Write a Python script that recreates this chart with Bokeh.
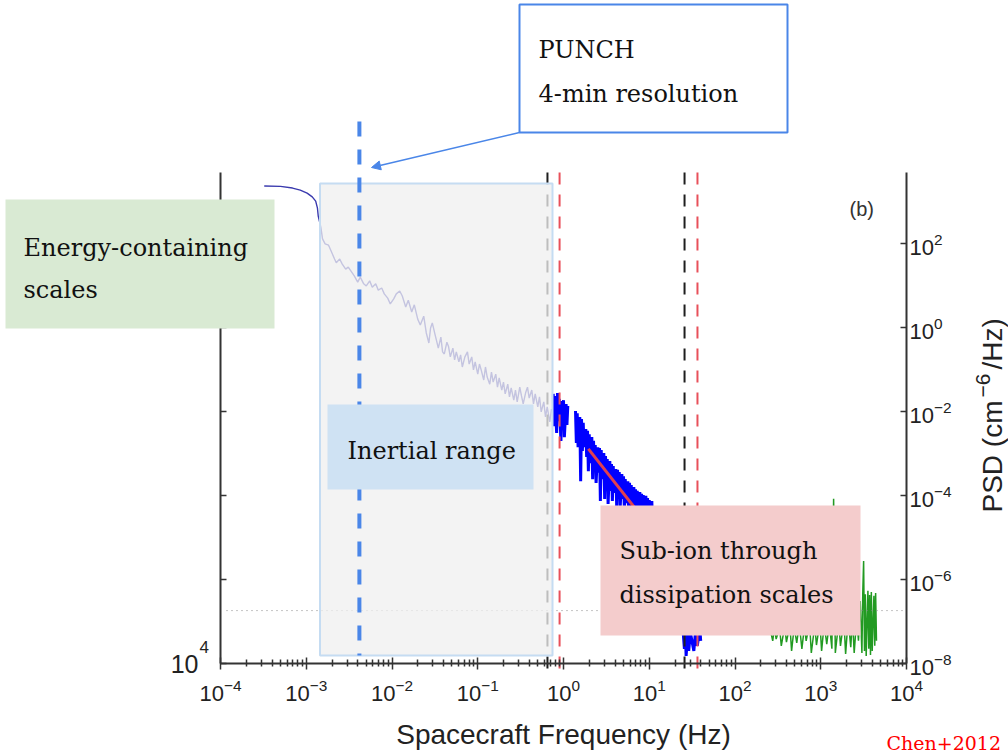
import math
from bokeh.plotting import figure
from bokeh.models import (FixedTicker, LogAxis, BoxAnnotation, Label, Arrow,
                          NormalHead, ColumnDataSource)
from bokeh.embed import file_html
from bokeh.resources import INLINE

# ---------------- data (log10 values) ----------------
# low-frequency density spectrum: (log10 f [Hz], log10 PSD [cm^-6/Hz])
low_spectrum = [
    (-3.49, 3.37), (-3.30, 3.36), (-3.16, 3.32), (-3.07, 3.27), (-2.99, 3.20),
    (-2.93, 3.11), (-2.89, 3.01), (-2.87, 2.85), (-2.86, 2.65), (-2.83, 2.39),
    (-2.81, 2.11), (-2.78, 1.99), (-2.74, 1.96), (-2.71, 1.82), (-2.67, 1.63),
    (-2.65, 1.54), (-2.61, 1.63), (-2.58, 1.51), (-2.54, 1.39), (-2.51, 1.44),
    (-2.47, 1.32), (-2.44, 1.23), (-2.40, 1.08), (-2.37, 1.20), (-2.33, 1.04),
    (-2.30, 0.99), (-2.26, 1.11), (-2.23, 0.96), (-2.19, 1.04), (-2.16, 0.89),
    (-2.12, 0.94), (-2.09, 0.80), (-2.05, 0.70), (-2.02, 0.56), (-1.98, 0.68),
    (-1.95, 0.80), (-1.91, 0.87), (-1.88, 0.75), (-1.84, 0.49), (-1.81, 0.65),
    (-1.77, 0.37), (-1.74, 0.54), (-1.70, 0.20), (-1.67, 0.06), (-1.63, 0.27),
    (-1.60, -0.13), (-1.57, -0.37), (-1.55, -0.01), (-1.53, 0.11), (-1.50, -0.15),
    (-1.48, -0.32), (-1.46, -0.49), (-1.43, -0.23), (-1.41, -0.58), (-1.39, -0.63),
    (-1.36, -0.35), (-1.34, -0.46), (-1.32, -0.70), (-1.29, -0.49), (-1.27, -0.77),
    (-1.25, -0.58), (-1.22, -0.82), (-1.20, -0.65), (-1.18, -0.94), (-1.15, -0.70),
    (-1.12, -0.58), (-1.10, -0.87), (-1.07, -0.70), (-1.05, -1.01), (-1.03, -0.82),
    (-1.00, -1.11), (-0.98, -0.87), (-0.96, -1.01), (-0.93, -1.25), (-0.91, -0.94),
    (-0.89, -1.18), (-0.86, -1.35), (-0.84, -1.06), (-0.82, -1.30), (-0.79, -1.11),
    (-0.77, -1.42), (-0.75, -1.20), (-0.72, -1.49), (-0.70, -1.30), (-0.68, -1.58),
    (-0.65, -1.35), (-0.63, -1.65), (-0.61, -1.44), (-0.58, -1.73), (-0.56, -1.49),
    (-0.54, -1.77), (-0.51, -1.42), (-0.49, -1.63), (-0.47, -1.82), (-0.44, -1.54),
    (-0.42, -1.42), (-0.40, -1.68), (-0.37, -1.49), (-0.35, -1.82), (-0.33, -1.58),
    (-0.30, -1.89), (-0.28, -1.65), (-0.26, -2.01), (-0.23, -1.77), (-0.21, -2.13),
    (-0.19, -1.89), (-0.16, -2.25), (-0.14, -1.94),
]
# high-resolution density spectrum, first burst
blue_a = [
    (-0.12, -1.58), (-0.11, -2.35), (-0.10, -1.63), (-0.08, -2.51), (-0.07, -1.56),
    (-0.06, -2.23), (-0.05, -1.70), (-0.03, -2.70), (-0.02, -1.75), (-0.01, -2.42),
    (0.00, -1.73), (0.01, -2.61), (0.03, -1.82), (0.04, -2.32), (0.05, -1.87),
]
# high-resolution density spectrum, main part
blue_b = [
    (0.14, -1.99), (0.15, -2.75), (0.16, -2.04), (0.17, -2.85), (0.19, -2.13),
    (0.20, -3.66), (0.21, -2.18), (0.22, -2.94), (0.23, -2.27), (0.24, -2.85),
    (0.26, -2.42), (0.27, -3.08), (0.28, -2.46), (0.29, -3.42), (0.30, -2.54),
    (0.31, -3.23), (0.33, -2.61), (0.34, -3.61), (0.35, -2.70), (0.36, -3.32),
    (0.37, -2.80), (0.38, -3.70), (0.40, -2.85), (0.41, -3.46), (0.42, -2.87),
    (0.43, -4.13), (0.44, -2.92), (0.45, -3.61), (0.47, -2.99), (0.48, -4.08),
    (0.49, -3.06), (0.50, -3.75), (0.51, -3.13), (0.52, -4.20), (0.54, -3.18),
    (0.55, -3.89), (0.56, -3.25), (0.57, -4.13), (0.58, -3.30), (0.59, -3.94),
    (0.61, -3.37), (0.62, -4.25), (0.63, -3.39), (0.64, -4.01), (0.65, -3.44),
    (0.66, -4.32), (0.68, -3.49), (0.69, -4.08), (0.70, -3.54), (0.71, -4.37),
    (0.72, -3.61), (0.73, -4.18), (0.75, -3.66), (0.76, -4.42), (0.77, -3.70),
    (0.78, -4.25), (0.79, -3.75), (0.80, -4.49), (0.82, -3.80), (0.83, -4.32),
    (0.84, -3.85), (0.85, -4.56), (0.86, -3.89), (0.87, -4.37), (0.89, -3.92),
    (0.90, -4.61), (0.91, -3.96), (0.92, -4.42), (0.93, -3.99), (0.94, -4.65),
    (0.96, -4.01), (0.97, -4.49), (0.98, -4.06), (0.99, -4.73), (1.00, -4.11),
    (1.01, -4.56), (1.03, -4.13), (1.04, -4.80), (1.13, -4.85), (1.25, -5.44),
    (1.36, -6.27), (1.41, -7.65), (1.42, -7.18), (1.43, -7.82), (1.45, -7.23),
    (1.46, -7.70), (1.48, -7.27), (1.52, -7.70), (1.54, -7.23), (1.56, -7.58),
    (1.59, -7.18), (1.60, -7.46),
]
# high-frequency density spectrum (green)
green_spectrum = [
    (2.41, -7.18), (2.44, -7.46), (2.46, -7.13), (2.48, -7.42), (2.52, -7.15),
    (2.54, -7.58), (2.58, -7.11), (2.60, -7.49), (2.64, -7.08), (2.66, -7.70),
    (2.69, -7.13), (2.72, -7.51), (2.75, -7.06), (2.78, -7.65), (2.81, -7.11),
    (2.83, -7.46), (2.87, -7.04), (2.89, -7.75), (2.93, -7.08), (2.95, -7.56),
    (2.99, -7.01), (3.01, -7.70), (3.04, -7.06), (3.07, -7.54), (3.10, -7.04),
    (3.13, -7.65), (3.15, -4.08), (3.17, -7.75), (3.21, -6.99), (3.23, -7.58),
    (3.27, -6.96), (3.29, -7.77), (3.32, -6.94), (3.35, -7.61), (3.37, -6.92),
    (3.39, -7.75), (3.42, -6.89), (3.44, -7.46), (3.46, -6.51), (3.48, -7.75),
    (3.49, -6.32), (3.50, -5.56), (3.51, -7.70), (3.52, -6.35), (3.53, -7.82),
    (3.55, -6.27), (3.56, -7.65), (3.57, -6.37), (3.58, -7.80), (3.59, -6.30),
    (3.60, -7.70), (3.62, -6.39), (3.63, -7.58), (3.64, -6.32), (3.65, -7.46),
]
fit_line = [(0.29, -2.89), (1.20, -5.25)]     # power-law fit (red)
black_marker_f = [0.65, 25.8]                  # black dashed markers (Hz)
red_marker_f = [0.90, 36.5]                    # red dashed markers (Hz)
punch_f = 1.0 / 240.0                          # PUNCH 4-min cadence (Hz)
noise_level = 10 ** -6.74                      # dotted noise level
x_ticks = [10.0 ** k for k in range(-4, 5)]
y_ticks = [10.0 ** k for k in range(-8, 3, 2)]


def unzip(pairs):
    return [10 ** a for a, _ in pairs], [10 ** b for _, b in pairs]


# ---------------- layout: the data frame covers the whole canvas ----------------
W, H = 1008, 756
AXL, AXR, AXT, AXB = 220, 906, 172, 663     # where the axes sit (pixels)
PX_DEC_X = (AXR - AXL) / 8.0                # pixels per decade along x
PX_DEC_Y = 42.0                             # pixels per decade along y


def dx(px):
    return 10 ** (-4 + (px - AXL) / PX_DEC_X)


def dy(py):
    return 10 ** (-8 + (AXB - py) / PX_DEC_Y)


p = figure(width=W, height=H, x_axis_type="log", y_axis_type="log",
           x_range=(dx(0), dx(W)), y_range=(dy(H), dy(0)),
           x_axis_location=None, y_axis_location=None,
           output_backend="svg", toolbar_location=None,
           min_border=0, min_border_left=0, min_border_right=0,
           min_border_top=0, min_border_bottom=0)
p.outline_line_color = None
p.background_fill_color = "white"
p.border_fill_color = "white"
p.xgrid.visible = False
p.ygrid.visible = False

AX = "#333333"
TXT = "#222222"
y_top = dy(AXT)

xa = LogAxis(fixed_location=1e-8, bounds=(1e-4, 1e4),
             ticker=FixedTicker(ticks=x_ticks,
                                minor_ticks=[m * 10.0 ** k for k in range(-4, 4) for m in range(2, 10)]),
             axis_line_width=2, axis_line_color=AX,
             major_tick_in=6, major_tick_out=6, minor_tick_in=4, minor_tick_out=3,
             major_tick_line_width=1.5, minor_tick_line_width=1.5,
             major_tick_line_color=AX, minor_tick_line_color=AX,
             major_label_text_font="Liberation Sans", major_label_text_font_size="22px",
             major_label_text_color=TXT, major_label_standoff=9,
             axis_label="Spacecraft Frequency (Hz)", axis_label_text_font="Liberation Sans",
             axis_label_text_font_size="28px", axis_label_text_font_style="normal",
             axis_label_text_color=TXT, axis_label_standoff=15)
p.add_layout(xa, "below")

ya = LogAxis(fixed_location=1e4, bounds=(1e-8, y_top),
             ticker=FixedTicker(ticks=y_ticks, minor_ticks=[]),
             axis_line_width=2, axis_line_color=AX,
             major_tick_in=6, major_tick_out=0, major_tick_line_width=1.5,
             major_tick_line_color=AX,
             major_label_text_font="Liberation Sans", major_label_text_font_size="22px",
             major_label_text_color=TXT, major_label_standoff=3)
p.add_layout(ya, "right")

la = LogAxis(fixed_location=1e-4, bounds=(1e-8, y_top),
             ticker=FixedTicker(ticks=y_ticks, minor_ticks=[]),
             axis_line_width=2, axis_line_color=AX,
             major_tick_in=6, major_tick_out=0, major_tick_line_width=1.5,
             major_tick_line_color=AX, major_label_text_alpha=0)
p.add_layout(la, "left")

# ---------------- spectra ----------------
fx, fy = unzip(low_spectrum)
p.line(fx, fy, line_color="#3a3aae", line_width=1.4)
bx, by = unzip(blue_a)
p.line(bx, by, line_color="#0000ff", line_width=3)
bx, by = unzip(blue_b)
p.line(bx, by, line_color="#0000ff", line_width=3)
gx, gy = unzip(green_spectrum)
p.line(gx, gy, line_color="#229a22", line_width=1.5)
rx, ry = unzip(fit_line)
p.line(rx, ry, line_color="#e0404f", line_width=3)

# dotted noise level (across the axes box)
p.segment(x0=[dx(226)], y0=[noise_level], x1=[1e4], y1=[noise_level],
          line_color="#8a8a8a", line_dash="1 4", line_width=1)

# dashed vertical markers (extend a little below the axis)
for fs, col in ((black_marker_f, "#1e1e1e"), (red_marker_f, "#e8505a")):
    src = ColumnDataSource(dict(x=fs, y0=[y_top] * len(fs), y1=[dy(678)] * len(fs)))
    p.segment(x0="x", y0="y0", x1="x", y1="y1", source=src,
              line_color=col, line_width=2, line_dash="12 10")

# inertial range shading
p.add_layout(BoxAnnotation(left=dx(319.5), right=dx(552), top=dy(183), bottom=dy(655),
                           fill_color="#efefef", fill_alpha=0.76,
                           line_color="#c5dcf2", line_width=2, line_alpha=1))

# PUNCH resolution line
p.add_layout(Arrow(x_start=punch_f, x_end=punch_f, y_start=dy(121), y_end=dy(655),
                   start=None, end=None, line_color="#4a86e8", line_width=4,
                   line_dash="15 13"))

# text boxes
p.add_layout(BoxAnnotation(left=dx(327), right=dx(533), top=dy(404), bottom=dy(489),
                           fill_color="#cfe2f3", fill_alpha=1, line_color=None))
p.add_layout(BoxAnnotation(left=dx(5), right=dx(274), top=dy(199), bottom=dy(328),
                           fill_color="#d9ead3", fill_alpha=1, line_color=None))
p.add_layout(BoxAnnotation(left=dx(600), right=dx(860), top=dy(505), bottom=dy(635),
                           fill_color="#f4cccc", fill_alpha=1, line_color=None))
p.add_layout(BoxAnnotation(left=dx(519), right=dx(787), top=dy(4), bottom=dy(132),
                           fill_color="white", fill_alpha=1,
                           line_color="#4a86e8", line_width=2, line_alpha=1))

p.add_layout(Arrow(x_start=dx(519), y_start=dy(132), x_end=dx(371), y_end=dy(167),
                   line_color="#4a86e8", line_width=1.5,
                   end=NormalHead(size=9, fill_color="#4a86e8", line_color="#4a86e8")))

SERIF = "DejaVu Serif"
BOX_TXT = "#111111"
BASE_SHIFT = 0.33   # alphabetic baseline correction, in em


def label(text, px, py, size=24, font=SERIF, color=BOX_TXT, align="left"):
    p.add_layout(Label(x=dx(px), y=dy(py - BASE_SHIFT * size), text=text, text_font=font,
                       text_font_size=f"{size}px", text_color=color,
                       text_baseline="alphabetic", text_align=align))


label("PUNCH", 538, 57)
label("4-min resolution", 538, 101)
label("Energy-containing", 23, 255)
label("scales", 23, 297)
label("Inertial range", 347, 458)
label("Sub-ion through", 619, 558)
label("dissipation scales", 619, 602)
label("Chen+2012", 886, 749, size=19, color="#ff0000")
label("(b)", 849, 215, size=20, font="Liberation Sans", color="#333333")

# leftover tick label of the neighbouring panel
label("10", 198, 672, size=25, font="Liberation Sans", color=TXT, align="right")
label("4", 199, 652, size=17, font="Liberation Sans", color=TXT)


# right axis title, reading upwards, with a raised exponent
def vlabel(text, px, py, size):
    p.add_layout(Label(x=dx(px), y=dy(py), text=text, text_font="Liberation Sans",
                       text_font_size=f"{size}px", text_color=TXT, angle=90,
                       angle_units="deg", text_align="left", text_baseline="middle"))


vlabel("PSD (cm", 992, 512, 28)
vlabel("\u22126", 982, 397, 21)
vlabel("/Hz)", 992, 369, 28)

open("out.html", "w").write(file_html(p, INLINE))
